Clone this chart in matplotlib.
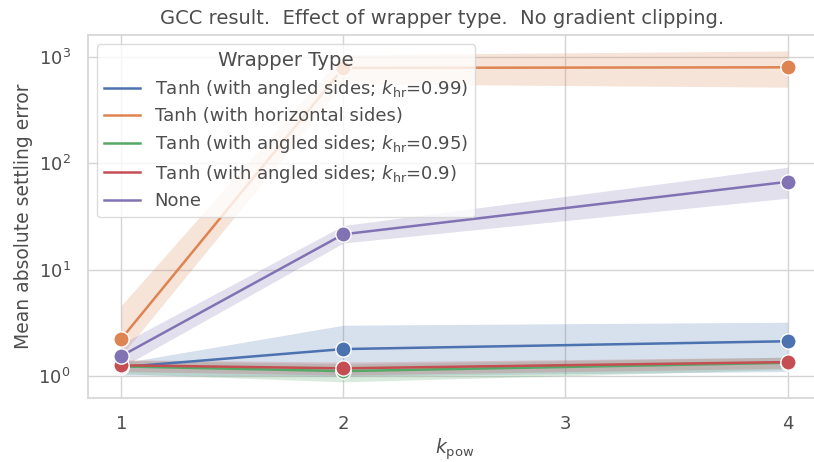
import numpy as np
import matplotlib
matplotlib.use('Agg')
import matplotlib.pyplot as plt
from matplotlib.lines import Line2D

# k_pow values and per-wrapper mean settling error with CI bounds
k_pow = [1, 2, 4]

labels = [
    r'Tanh (with angled sides; $k_{\mathrm{hr}}$=0.99)',
    'Tanh (with horizontal sides)',
    r'Tanh (with angled sides; $k_{\mathrm{hr}}$=0.95)',
    r'Tanh (with angled sides; $k_{\mathrm{hr}}$=0.9)',
    'None',
]
colors = ['#4C72B0', '#DD8452', '#55A868', '#C44E52', '#8172B3']

mean_099 = [1.21, 1.79, 2.12]
low_099 = [1.02, 1.0, 1.1]
high_099 = [1.32, 3.0, 3.2]

mean_horiz = [2.23, 790, 800]
low_horiz = [1.55, 560, 520]
high_horiz = [4.6, 1050, 1140]

mean_095 = [1.23, 1.11, 1.33]
low_095 = [1.05, 0.88, 1.15]
high_095 = [1.4, 1.3, 1.5]

mean_09 = [1.26, 1.18, 1.35]
low_09 = [1.1, 1.02, 1.18]
high_09 = [1.42, 1.35, 1.5]

mean_none = [1.54, 21.5, 67]
low_none = [1.2, 17.8, 47]
high_none = [2.0, 26, 92]

means = [mean_099, mean_horiz, mean_095, mean_09, mean_none]
lows = [low_099, low_horiz, low_095, low_09, low_none]
highs = [high_099, high_horiz, high_095, high_09, high_none]

text_color = '0.3'
grid_color = '0.83'
plt.rcParams['font.family'] = 'DejaVu Sans'
plt.rcParams['mathtext.fontset'] = 'dejavusans'
plt.rcParams['font.size'] = 13
plt.rcParams['text.color'] = text_color
plt.rcParams['axes.labelcolor'] = text_color
plt.rcParams['xtick.color'] = text_color
plt.rcParams['ytick.color'] = text_color

fig = plt.figure(figsize=(8.14, 4.62), dpi=100)
ax = fig.add_axes([0.108, 0.1385, 0.9005, 0.7857])

for m, lo, hi, c in zip(means, lows, highs, colors):
    ax.fill_between(k_pow, lo, hi, color=c, alpha=0.22, linewidth=0)
for m, c in zip(means, colors):
    ax.plot(k_pow, m, color=c, linewidth=1.8, marker='o', markersize=11,
            markeredgecolor='white', markeredgewidth=1.0)

ax.set_yscale('log')
ax.set_xlim(0.85, 4.15)
ax.set_ylim(0.62, 1610)
ax.set_xticks([1, 2, 3, 4])
ax.tick_params(axis='both', which='both', length=0, pad=12.5, labelsize=13)
ax.minorticks_off()
ax.set_yticks([1, 10, 100, 1000])
ax.grid(True, color=grid_color, linewidth=1.0)
ax.set_axisbelow(True)
for s in ax.spines.values():
    s.set_color(grid_color)
    s.set_linewidth(1.2)

ax.set_xlabel(r'$k_{\mathrm{pow}}$', fontsize=13.5, labelpad=2)
ax.set_ylabel('Mean absolute settling error', fontsize=13.5, labelpad=4)
ax.set_title('GCC result.  Effect of wrapper type.  No gradient clipping.',
             fontsize=14, x=0.483, pad=8)

handles = [Line2D([], [], color=c, linewidth=1.8) for c in colors]
leg = ax.legend(handles, labels, title='Wrapper Type', loc='upper left',
                fontsize=13, title_fontsize=14.2, frameon=True,
                borderaxespad=0.5, handlelength=2.0, labelspacing=0.42)
leg.get_frame().set_edgecolor(grid_color)
plt.setp(leg.get_texts(), color=text_color)
leg.get_title().set_color(text_color)

fig.savefig('out.png', dpi=100)
